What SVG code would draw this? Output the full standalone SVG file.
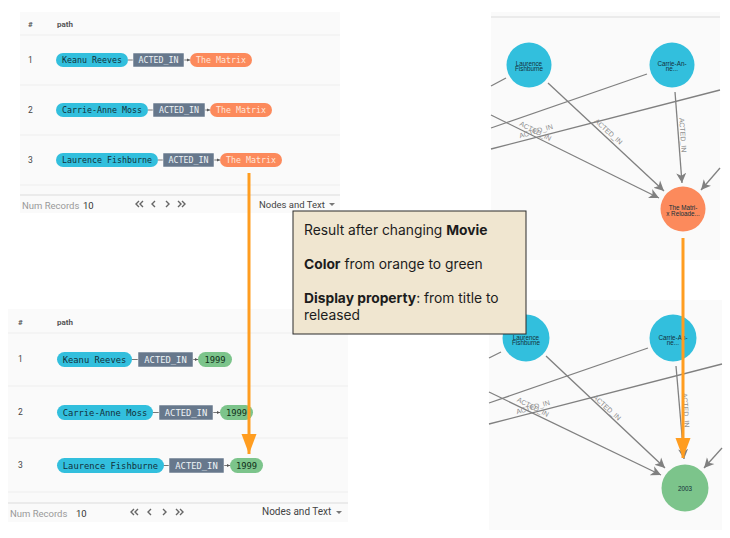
<svg xmlns="http://www.w3.org/2000/svg" width="730" height="538" viewBox="0 0 730 538">
<style>
text{font-family:"Liberation Sans",Arial,sans-serif}
.panel{fill:#fafafa}
.rule{stroke:#eeeeee;stroke-width:1}
.rule2{stroke:#dcdcdc;stroke-width:1}
.hd{font-family:Roboto,"Liberation Sans",sans-serif;font-size:8px;font-weight:700;fill:#555}
.num{font-family:Roboto,"Liberation Sans",sans-serif;font-size:8.5px;fill:#444}
.mono{font-family:"DejaVu Sans Mono",monospace;text-anchor:middle;dominant-baseline:central}
.m1{font-size:8.3px}.m2{font-size:8.8px}
.dk{fill:#12303a}.wt{fill:#eef3f6}.or{fill:#ffe6da}.gd{fill:#10301a}
.blue{fill:#32bfdd}.orange{fill:#fc8a5c}.green{fill:#7cc48b}.rel{fill:#67788c;stroke:#fff;stroke-width:.5}
.pl{stroke:#555;stroke-width:.8;fill:none}
.rec{font-family:Roboto,"Liberation Sans",sans-serif;font-size:9.5px;fill:#999;dominant-baseline:central}
.ten{font-family:Roboto,"Liberation Sans",sans-serif;font-size:9.5px;fill:#333;dominant-baseline:central}
.nt{font-family:Roboto,"Liberation Sans",sans-serif;font-size:9.5px;fill:#444;dominant-baseline:central}
.chev{fill:none;stroke:#666;stroke-width:1.4}
.car{fill:#777}
.edge{stroke:#808080;stroke-width:1.3;fill:none}
.head{marker-end:url(#ah)}
.lab{font-size:7px;fill:#8c8c8c;text-anchor:middle;dominant-baseline:central}
.cn{font-size:6.3px;fill:#12303a;text-anchor:middle}
.oa{stroke:#ff9d20;stroke-width:3;fill:none;marker-end:url(#oh)}
.call{font-family:Inter,"Liberation Sans",sans-serif;font-size:13.8px;fill:#1c1c1c}
</style>
<defs>
<marker id="ah" markerUnits="userSpaceOnUse" markerWidth="11" markerHeight="11" refX="10" refY="5.500" orient="auto"><path d="M0,.5 L10,5.500 L0,10.500 L2.800,5.500 z" fill="#808080"/></marker>
<marker id="sh" markerUnits="userSpaceOnUse" markerWidth="4" markerHeight="4" refX="3" refY="2" orient="auto"><path d="M0,.5 L3,2 L0,3.500 z" fill="#555"/></marker>
<marker id="oh" markerUnits="userSpaceOnUse" markerWidth="21" markerHeight="16" refX="20" refY="8" orient="auto"><path d="M0,.5 L0,15.500 L20,8 z" fill="#ff9d20"/></marker>
</defs>

<g id="panel-table-before">
<rect class="panel" x="20" y="12" width="320" height="201"/>
<line class="rule" x1="20" y1="35" x2="340" y2="35"/><line class="rule" x1="20" y1="85" x2="340" y2="85"/><line class="rule" x1="20" y1="135" x2="340" y2="135"/><line class="rule" x1="20" y1="185" x2="340" y2="185"/><line class="rule2" x1="20" y1="195" x2="340" y2="195"/>
<text class="hd" x="28" y="27">#</text><text class="hd" x="57" y="27">path</text>
<text class="num" x="28" y="63">1</text><text class="num" x="28" y="113">2</text><text class="num" x="28" y="163">3</text>
<text class="rec" x="22" y="205">Num Records</text><text class="ten" x="83" y="205">10</text>
<path class="chev" d="M139,201 l-3,3 l3,3 M143,201 l-3,3 l3,3 M155,201 l-3,3 l3,3 M166,201 l3,3 l-3,3 M178,201 l3,3 l-3,3 M182,201 l3,3 l-3,3"/>
<text class="nt" x="259" y="204">Nodes and Text</text><path class="car" d="M329,203 h6 l-3,3 z"/>
</g>
<g id="panel-table-after">
<rect class="panel" x="8" y="309" width="340" height="213"/>
<line class="rule" x1="8" y1="333" x2="348" y2="333"/><line class="rule" x1="8" y1="386" x2="348" y2="386"/><line class="rule" x1="8" y1="438" x2="348" y2="438"/><line class="rule" x1="8" y1="492" x2="348" y2="492"/><line class="rule2" x1="8" y1="503" x2="348" y2="503"/>
<text class="hd" x="18" y="325">#</text><text class="hd" x="57" y="325">path</text>
<text class="num" x="18" y="362">1</text><text class="num" x="18" y="415">2</text><text class="num" x="18" y="468">3</text>
<text class="rec" x="10" y="513">Num Records</text><text class="ten" x="76" y="513">10</text>
<path class="chev" d="M134,509 l-3,3 l3,3 M138,509 l-3,3 l3,3 M151,509 l-3,3 l3,3 M163,509 l3,3 l-3,3 M176,509 l3,3 l-3,3 M180,509 l3,3 l-3,3"/>
<text class="nt" x="262" y="511" style="font-size:10px">Nodes and Text</text><path class="car" d="M336,511 h6 l-3,3 z"/>
</g>
<g id="panel-graph-before"><rect class="panel" x="491" y="12" width="229" height="248"/><line class="rule2" x1="491" y1="17" x2="720" y2="17"/></g>
<g id="panel-graph-after"><rect class="panel" x="489" y="300" width="233" height="230"/></g>

<g id="connectors">
<path class="pl" d="M128,60H133"/><path class="pl" d="M184,60H190" marker-end="url(#sh)"/>
<path class="pl" d="M148,110H153"/><path class="pl" d="M205,110H210" marker-end="url(#sh)"/>
<path class="pl" d="M158,160H163"/><path class="pl" d="M214,160H220" marker-end="url(#sh)"/>
<path class="pl" d="M132,359.500H138"/><path class="pl" d="M193,359.500H198" marker-end="url(#sh)"/>
<path class="pl" d="M153,412.500H159"/><path class="pl" d="M213,412.500H220" marker-end="url(#sh)"/>
<path class="pl" d="M164,465.500H169"/><path class="pl" d="M224,465.500H230" marker-end="url(#sh)"/>

<path class="edge" d="M491,86L506,78"/>
<path class="edge head" d="M548,83L664,191"/>
<path class="edge" d="M647,74L491,128"/>
<path class="edge head" d="M675,92L682,183"/>
<path class="edge" d="M720,90L491,149"/>
<path class="edge head" d="M491,115L659,198"/>
<path class="edge head" d="M720,168L701,190"/>
<text class="lab" transform="translate(535.500,131) rotate(27)">ACTED_IN</text>
<text class="lab" transform="translate(536,131) rotate(-16)">ACTED_IN</text>
<text class="lab" transform="translate(608.500,131.500) rotate(42)">ACTED_IN</text>
<text class="lab" transform="translate(683,135) rotate(86)">ACTED_IN</text>

<path class="edge" d="M489,358L501,352"/>
<path class="edge head" d="M546,356L665,468"/>
<path class="edge" d="M648,348L489,403"/>
<path class="edge head" d="M676,366L684,459"/>
<path class="edge" d="M722,364L489,424"/>
<path class="edge head" d="M489,392L661,475"/>
<path class="edge head" d="M722,448L704,468"/>
<text class="lab" transform="translate(533,407) rotate(27)">ACTED_IN</text>
<text class="lab" transform="translate(533,407) rotate(-16)">ACTED_IN</text>
<text class="lab" transform="translate(607,407.500) rotate(42)">ACTED_IN</text>
<text class="lab" transform="translate(686,410) rotate(86)">ACTED_IN</text>
</g>

<g id="row1-before"><rect class="blue" x="56" y="53" width="72" height="14" rx="7"/><text class="mono m1 dk" x="92" y="60">Keanu Reeves</text><rect class="rel" x="133" y="53" width="51" height="14"/><text class="mono m1 wt" x="158.500" y="60">ACTED_IN</text><rect class="orange" x="190" y="53" width="62" height="14" rx="7"/><text class="mono m1 or" x="221" y="60">The Matrix</text></g>
<g id="row2-before"><rect class="blue" x="56" y="103" width="92" height="14" rx="7"/><text class="mono m1 dk" x="102" y="110">Carrie-Anne Moss</text><rect class="rel" x="153" y="103" width="52" height="14"/><text class="mono m1 wt" x="179" y="110">ACTED_IN</text><rect class="orange" x="210" y="103" width="62" height="14" rx="7"/><text class="mono m1 or" x="241" y="110">The Matrix</text></g>
<g id="row3-before"><rect class="blue" x="56" y="153" width="102" height="14" rx="7"/><text class="mono m1 dk" x="107" y="160">Laurence Fishburne</text><rect class="rel" x="163" y="153" width="51" height="14"/><text class="mono m1 wt" x="188.500" y="160">ACTED_IN</text><rect class="orange" x="220" y="153" width="62" height="14" rx="7"/><text class="mono m1 or" x="251" y="160">The Matrix</text></g>

<g id="row1-after"><rect class="blue" x="57" y="352" width="75" height="15" rx="7.500"/><text class="mono m2 dk" x="94.500" y="359.500">Keanu Reeves</text><rect class="rel" x="138" y="352" width="55" height="15"/><text class="mono m2 wt" x="165.500" y="359.500">ACTED_IN</text><rect class="green" x="198" y="352" width="34" height="15" rx="7.500"/><text class="mono m2 gd" x="215" y="359.500">1999</text></g>
<g id="row2-after"><rect class="blue" x="57" y="405" width="96" height="15" rx="7.500"/><text class="mono m2 dk" x="105" y="412.500">Carrie-Anne Moss</text><rect class="rel" x="159" y="405" width="54" height="15"/><text class="mono m2 wt" x="186" y="412.500">ACTED_IN</text><rect class="green" x="220" y="405" width="33" height="15" rx="7.500"/><text class="mono m2 gd" x="236.500" y="412.500">1999</text></g>
<g id="row3-after"><rect class="blue" x="57" y="458" width="107" height="15" rx="7.500"/><text class="mono m2 dk" x="110.500" y="465.500">Laurence Fishburne</text><rect class="rel" x="169" y="458" width="55" height="15"/><text class="mono m2 wt" x="196.500" y="465.500">ACTED_IN</text><rect class="green" x="230" y="458" width="33" height="15" rx="7.500"/><text class="mono m2 gd" x="246.500" y="465.500">1999</text></g>

<g id="node-laurence-before"><circle class="blue" cx="529" cy="65" r="22.500"/><text class="cn" x="529" y="65.500">Laurence</text><text class="cn" x="529" y="71">Fishburne</text></g>
<g id="node-carrie-before"><circle class="blue" cx="672" cy="65" r="22.500"/><text class="cn" x="672" y="65.500">Carrie-An-</text><text class="cn" x="672" y="71">ne...</text></g>
<g id="node-matrix"><circle class="orange" cx="683" cy="209" r="22.500"/><text class="cn" x="683" y="209.500">The Matri-</text><text class="cn" x="683" y="215.500">x Reloade...</text></g>
<g id="node-laurence-after"><circle class="blue" cx="526" cy="338" r="23.500"/><text class="cn" x="526" y="339.500">Laurence</text><text class="cn" x="526" y="345">Fishburne</text></g>
<g id="node-carrie-after"><circle class="blue" cx="673" cy="338" r="23.500"/><text class="cn" x="673" y="339.500">Carrie-An-</text><text class="cn" x="673" y="345">ne...</text></g>
<g id="node-2003"><circle class="green" cx="685" cy="488" r="23.500"/><text class="cn" x="685" y="491">2003</text></g>

<g id="callout">
<rect x="293" y="211" width="233" height="123" fill="#f0e6d0" stroke="#2b2b2b" stroke-width="1"/>
<text class="call" x="304" y="235">Result after changing <tspan font-weight="700">Movie</tspan></text>
<text class="call" x="304" y="269"><tspan font-weight="700">Color</tspan> from orange to green</text>
<text class="call" x="304" y="303"><tspan font-weight="700">Display property</tspan>: from title to</text>
<text class="call" x="304" y="320">released</text>
</g>

<g id="change-arrows">
<path class="oa" d="M249,173V454"/>
<path class="oa" d="M683,238V458"/>
</g>
</svg>
